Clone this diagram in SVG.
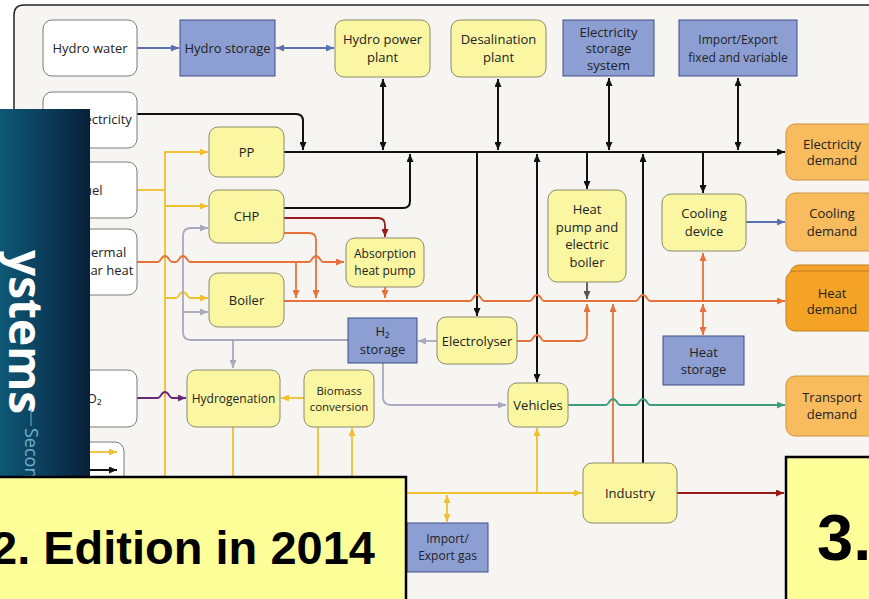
<svg xmlns="http://www.w3.org/2000/svg" width="869" height="599" viewBox="0 0 869 599">
  <defs>
    <style>
      .lbl { font-family: "Open Sans", "Noto Sans", sans-serif; font-size: 13px; fill: #222; text-anchor: middle; }
      .sm { font-size: 12px; }
      .xs { font-size: 11.5px; }
      .src { fill: #ffffff; stroke: #7a7a7a; stroke-width: 1; }
      .unit { fill: #faf6a2; stroke: #8c8a6c; stroke-width: 1; }
      .store { fill: #8d9ed2; stroke: #3f4f88; stroke-width: 1; }
      .dem { fill: #f8bb5e; stroke: #cf9440; stroke-width: 1; }
      .dem2 { fill: #f4a326; stroke: #c27d1e; stroke-width: 1; }
      .c { fill: none; stroke-width: 1.8; stroke-linejoin: round; }
      .k { stroke: #111; stroke-width: 2; }
      .b { stroke: #5b6fb3; }
      .y { stroke: #f0c030; }
      .o { stroke: #e8703a; }
      .g { stroke: #aaa8be; }
      .d { stroke: #555; }
      .r { stroke: #9c1a1a; }
      .p { stroke: #6b2777; }
      .t { stroke: #3d9d7d; }
      .note { fill: #ffff99; stroke: #000; stroke-width: 2.5; }
      .big { font-family: "Liberation Sans", Arial, sans-serif; font-weight: bold; fill: #000; }
    </style>
    <marker id="aK" viewBox="0 0 8 7" refX="8" refY="3.5" markerWidth="8" markerHeight="7" markerUnits="userSpaceOnUse" orient="auto-start-reverse"><path d="M0,0 L8,3.5 L0,7 z" fill="#111"/></marker>
    <marker id="aB" viewBox="0 0 8 7" refX="8" refY="3.5" markerWidth="8" markerHeight="7" markerUnits="userSpaceOnUse" orient="auto-start-reverse"><path d="M0,0 L8,3.5 L0,7 z" fill="#5b6fb3"/></marker>
    <marker id="aY" viewBox="0 0 8 7" refX="8" refY="3.5" markerWidth="8" markerHeight="7" markerUnits="userSpaceOnUse" orient="auto-start-reverse"><path d="M0,0 L8,3.5 L0,7 z" fill="#f0c030"/></marker>
    <marker id="aO" viewBox="0 0 8 7" refX="8" refY="3.5" markerWidth="8" markerHeight="7" markerUnits="userSpaceOnUse" orient="auto-start-reverse"><path d="M0,0 L8,3.5 L0,7 z" fill="#e8703a"/></marker>
    <marker id="aG" viewBox="0 0 8 7" refX="8" refY="3.5" markerWidth="8" markerHeight="7" markerUnits="userSpaceOnUse" orient="auto-start-reverse"><path d="M0,0 L8,3.5 L0,7 z" fill="#aaa8be"/></marker>
    <marker id="aD" viewBox="0 0 8 7" refX="8" refY="3.5" markerWidth="8" markerHeight="7" markerUnits="userSpaceOnUse" orient="auto-start-reverse"><path d="M0,0 L8,3.5 L0,7 z" fill="#555"/></marker>
    <marker id="aR" viewBox="0 0 8 7" refX="8" refY="3.5" markerWidth="8" markerHeight="7" markerUnits="userSpaceOnUse" orient="auto-start-reverse"><path d="M0,0 L8,3.5 L0,7 z" fill="#9c1a1a"/></marker>
    <marker id="aP" viewBox="0 0 8 7" refX="8" refY="3.5" markerWidth="8" markerHeight="7" markerUnits="userSpaceOnUse" orient="auto-start-reverse"><path d="M0,0 L8,3.5 L0,7 z" fill="#6b2777"/></marker>
    <marker id="aT" viewBox="0 0 8 7" refX="8" refY="3.5" markerWidth="8" markerHeight="7" markerUnits="userSpaceOnUse" orient="auto-start-reverse"><path d="M0,0 L8,3.5 L0,7 z" fill="#3d9d7d"/></marker>
    <linearGradient id="cover" x1="0" y1="0" x2="1" y2="0">
      <stop offset="0" stop-color="#0e5875"/>
      <stop offset="0.55" stop-color="#0b3a58"/>
      <stop offset="1" stop-color="#081f38"/>
    </linearGradient>
  </defs>

  <rect width="869" height="599" fill="#ffffff"/>
  <!-- diagram frame -->
  <path d="M14,605 V15 Q14,5 24,5 H875 V605 z" fill="#f6f5f2" stroke="#222" stroke-width="1.5"/>

  <!-- connectors -->
  <g id="connectors">
    <!-- electricity (black) -->
    <path class="c k" d="M137,114 H296 Q303,114 303,121 V150" marker-end="url(#aK)"/>
    <path class="c k" d="M284,152 H785" marker-end="url(#aK)"/>
    <path class="c k" d="M383,79 V150" marker-start="url(#aK)" marker-end="url(#aK)"/>
    <path class="c k" d="M498,79 V150" marker-start="url(#aK)" marker-end="url(#aK)"/>
    <path class="c k" d="M609,78 V150" marker-start="url(#aK)" marker-end="url(#aK)"/>
    <path class="c k" d="M738,78 V150" marker-start="url(#aK)" marker-end="url(#aK)"/>
    <path class="c k" d="M284,208 H403 Q410,208 410,201 V154" marker-end="url(#aK)"/>
    <path class="c k" d="M537,154 V382" marker-start="url(#aK)" marker-end="url(#aK)"/>
    <path class="c k" d="M477,152 V316" marker-end="url(#aK)"/>
    <path class="c k" d="M587,152 V189" marker-end="url(#aK)"/>
    <path class="c k" d="M643,463 V154" marker-end="url(#aK)"/>
    <path class="c k" d="M703,152 V193" marker-end="url(#aK)"/>

    <!-- water / cooling (blue) -->
    <path class="c b" d="M137,48 H179" marker-end="url(#aB)"/>
    <path class="c b" d="M276,48 H334" marker-start="url(#aB)" marker-end="url(#aB)"/>
    <path class="c b" d="M746,222 H785" marker-end="url(#aB)"/>

    <!-- fuel (yellow) -->
    <path class="c y" d="M137,190 H165"/>
    <path class="c y" d="M165,485 V152 H208" marker-end="url(#aY)"/>
    <path class="c y" d="M165,206 H208" marker-end="url(#aY)"/>
    <path class="c y" d="M165,298 H176 C179,298 179,292 183,292 C187,292 187,298 190,298 H208" marker-end="url(#aY)"/>
    <path class="c y" d="M233,427 V485"/>
    <path class="c y" d="M304,398 H281" marker-end="url(#aY)"/>
    <path class="c y" d="M318,427 V485"/>
    <path class="c y" d="M352,485 V428" marker-end="url(#aY)"/>
    <path class="c y" d="M400,493 H582" marker-end="url(#aY)"/>
    <path class="c y" d="M537,493 V428" marker-end="url(#aY)"/>
    <path class="c y" d="M447,495 V522" marker-start="url(#aY)" marker-end="url(#aY)"/>

    <!-- hydrogen (grey) -->
    <path class="c g" d="M348,340 H191 Q183,340 183,332 V236 Q183,228 191,228 H208" marker-end="url(#aG)"/>
    <path class="c g" d="M183,312 H208" marker-end="url(#aG)"/>
    <path class="c g" d="M233,340 V368" marker-end="url(#aG)"/>
    <path class="c g" d="M437,341 H418" marker-end="url(#aG)"/>
    <path class="c g" d="M383,363 V397 Q383,405 391,405 H506" marker-end="url(#aG)"/>

    <!-- heat (orange / dark red) -->
    <path class="c r" d="M284,218 H378 Q385,218 385,225 V237" marker-end="url(#aR)"/>
    <path class="c o" d="M284,233 H309 Q316,233 316,240 V298" marker-end="url(#aO)"/>
    <path class="c o" d="M137,262 H158 C161,262 161,256 165,256 C169,256 169,262 172,262 H176 C179,262 179,256 183,256 C187,256 187,262 190,262 H309 C312,262 312,256 316,256 C320,256 320,262 323,262 H344" marker-end="url(#aO)"/>
    <path class="c o" d="M296,262 V298" marker-end="url(#aO)"/>
    <path class="c o" d="M385,287 V298" marker-end="url(#aO)"/>
    <path class="c o" d="M284,301 H470 C473,301 473,295 477,295 C481,295 481,301 484,301 H530 C533,301 533,295 537,295 C541,295 541,301 544,301 H636 C639,301 639,295 643,295 C647,295 647,301 650,301 H785" marker-end="url(#aO)"/>
    <path class="c o" d="M517,341 H530 C533,341 533,335 537,335 C541,335 541,341 544,341 H580 Q587,341 587,334 V304" marker-end="url(#aO)"/>
    <path class="c o" d="M613,463 V304" marker-end="url(#aO)"/>
    <path class="c o" d="M703,301 V253" marker-end="url(#aO)"/>
    <path class="c o" d="M703,304 V335" marker-start="url(#aO)" marker-end="url(#aO)"/>
    <path class="c d" d="M587,282 V299" marker-end="url(#aD)"/>
    <path class="c r" d="M677,493 H784" marker-end="url(#aR)"/>

    <!-- CO2 (purple) and transport (green) -->
    <path class="c p" d="M137,398 H158 C161,398 161,392 165,392 C169,392 169,398 172,398 H186" marker-end="url(#aP)"/>
    <path class="c t" d="M568,405 H606 C609,405 609,399 613,399 C617,399 617,405 620,405 H636 C639,405 639,399 643,399 C647,399 647,405 650,405 H785" marker-end="url(#aT)"/>
  </g>

  <!-- resources -->
  <g id="hydro-water"><rect class="src" x="43" y="20" width="94" height="56" rx="9"/><text class="lbl" x="90" y="52.5">Hydro water</text></g>
  <g id="res-electricity"><rect class="src" x="43" y="92" width="94" height="56" rx="9"/><text class="lbl" x="90" y="124">RES electricity</text></g>
  <g id="fuel"><rect class="src" x="43" y="162" width="94" height="56" rx="9"/><text class="lbl" x="90" y="194.5">Fuel</text></g>
  <g id="thermal"><rect class="src" x="43" y="229" width="94" height="66" rx="9"/><text class="lbl" x="90" y="256.5">Geothermal</text><text class="lbl" x="90" y="274.5">and solar heat</text></g>
  <g id="co2"><rect class="src" x="43" y="370" width="94" height="57" rx="9"/><text class="lbl" x="90" y="402.5">CO₂</text></g>
  <g id="legend">
    <rect class="src" x="30" y="442" width="94" height="70" rx="9"/>
    <path class="c y" d="M88,452 H117" marker-end="url(#aY)"/>
    <path class="c k" d="M88,470 H117" marker-end="url(#aK)"/>
  </g>

  <!-- top row -->
  <g id="hydro-storage"><rect class="store" x="180" y="20" width="95" height="56"/><text class="lbl" x="227.5" y="52.5">Hydro storage</text></g>
  <g id="hydro-power-plant"><rect class="unit" x="335" y="20" width="95" height="57" rx="9"/><text class="lbl" x="382.5" y="44">Hydro power</text><text class="lbl" x="382.5" y="62">plant</text></g>
  <g id="desalination-plant"><rect class="unit" x="451" y="20" width="95" height="57" rx="9"/><text class="lbl" x="498.5" y="44">Desalination</text><text class="lbl" x="498.5" y="62">plant</text></g>
  <g id="electricity-storage"><rect class="store" x="563" y="20" width="91" height="56"/><text class="lbl" x="608.5" y="36.5">Electricity</text><text class="lbl" x="608.5" y="53">storage</text><text class="lbl" x="608.5" y="69.5">system</text></g>
  <g id="import-export"><rect class="store" x="679" y="20" width="118" height="56"/><text class="lbl sm" x="738" y="44">Import/Export</text><text class="lbl sm" x="738" y="61.5">fixed and variable</text></g>

  <!-- conversion units -->
  <g id="pp"><rect class="unit" x="209" y="127" width="75" height="50" rx="9"/><text class="lbl" x="246.5" y="156.5">PP</text></g>
  <g id="chp"><rect class="unit" x="209" y="190" width="75" height="53" rx="9"/><text class="lbl" x="246.5" y="221">CHP</text></g>
  <g id="boiler"><rect class="unit" x="209" y="273" width="75" height="54" rx="9"/><text class="lbl" x="246.5" y="304.5">Boiler</text></g>
  <g id="absorption-heat-pump"><rect class="unit" x="346" y="238" width="78" height="49" rx="9"/><text class="lbl sm" x="385" y="258">Absorption</text><text class="lbl sm" x="385" y="274.5">heat pump</text></g>
  <g id="h2-storage"><rect class="store" x="348" y="318" width="69" height="45"/><text class="lbl" x="382.5" y="336">H₂</text><text class="lbl" x="382.5" y="354">storage</text></g>
  <g id="electrolyser"><rect class="unit" x="437" y="317" width="80" height="47" rx="9"/><text class="lbl" x="477" y="345.5">Electrolyser</text></g>
  <g id="heat-pump"><rect class="unit" x="548" y="190" width="78" height="92" rx="9"/><text class="lbl" x="587" y="213.5">Heat</text><text class="lbl" x="587" y="231.5">pump and</text><text class="lbl" x="587" y="249">electric</text><text class="lbl" x="587" y="267">boiler</text></g>
  <g id="cooling-device"><rect class="unit" x="662" y="194" width="84" height="57" rx="9"/><text class="lbl" x="704" y="217.5">Cooling</text><text class="lbl" x="704" y="235.5">device</text></g>
  <g id="heat-storage"><rect class="store" x="663" y="336" width="81" height="49"/><text class="lbl" x="703.5" y="356.5">Heat</text><text class="lbl" x="703.5" y="374">storage</text></g>
  <g id="vehicles"><rect class="unit" x="508" y="383" width="60" height="44" rx="9"/><text class="lbl" x="538" y="409.5">Vehicles</text></g>
  <g id="hydrogenation"><rect class="unit" x="187" y="370" width="93" height="57" rx="9"/><text class="lbl sm" x="233.5" y="402.5">Hydrogenation</text></g>
  <g id="biomass-conversion"><rect class="unit" x="304" y="370" width="70" height="57" rx="9"/><text class="lbl xs" x="339" y="395">Biomass</text><text class="lbl xs" x="339" y="410.5">conversion</text></g>
  <g id="industry"><rect class="unit" x="583" y="463" width="94" height="60" rx="9"/><text class="lbl" x="630" y="497.5">Industry</text></g>
  <g id="import-export-gas"><rect class="store" x="407" y="523" width="81" height="49"/><text class="lbl sm" x="447.5" y="543">Import/</text><text class="lbl sm" x="447.5" y="560">Export gas</text></g>

  <!-- demands -->
  <g id="electricity-demand"><rect class="dem" x="786" y="124" width="100" height="56" rx="9"/><text class="lbl" x="832" y="148.5">Electricity</text><text class="lbl" x="832" y="165">demand</text></g>
  <g id="cooling-demand"><rect class="dem" x="786" y="193" width="100" height="58" rx="9"/><text class="lbl" x="832" y="217.5">Cooling</text><text class="lbl" x="832" y="235.5">demand</text></g>
  <g id="heat-demand"><rect class="dem2" x="790" y="265" width="100" height="58" rx="9" fill="#f6ae44"/><rect class="dem2" x="786" y="271" width="100" height="60" rx="9"/><text class="lbl" x="832" y="297.5">Heat</text><text class="lbl" x="832" y="314">demand</text></g>
  <g id="transport-demand"><rect class="dem" x="786" y="376" width="100" height="60" rx="9"/><text class="lbl" x="832" y="401.5">Transport</text><text class="lbl" x="832" y="418.5">demand</text></g>

  <!-- book cover strip -->
  <g id="cover-strip">
    <rect x="0" y="109" width="90" height="490" fill="url(#cover)"/>
    <text transform="translate(9,250) rotate(90)" font-family="Open Sans, Noto Sans, sans-serif" font-weight="700" font-size="46" fill="#ffffff">ystems</text>
    <line x1="31" y1="409" x2="31" y2="426" stroke="#6fb0d0" stroke-width="1"/>
    <text transform="translate(25,428) rotate(90)" font-family="Open Sans, Noto Sans, sans-serif" font-size="18" fill="#6fb0d0">Second Edition</text>
  </g>

  <!-- edition notes -->
  <g id="note-2014">
    <rect class="note" x="-5" y="477" width="411" height="130"/>
    <text class="big" x="-9" y="564" font-size="47">2. Edition in 2014</text>
  </g>
  <g id="note-3">
    <rect class="note" x="786" y="457" width="95" height="150"/>
    <text class="big" x="817" y="560" font-size="65">3.</text>
  </g>
</svg>
